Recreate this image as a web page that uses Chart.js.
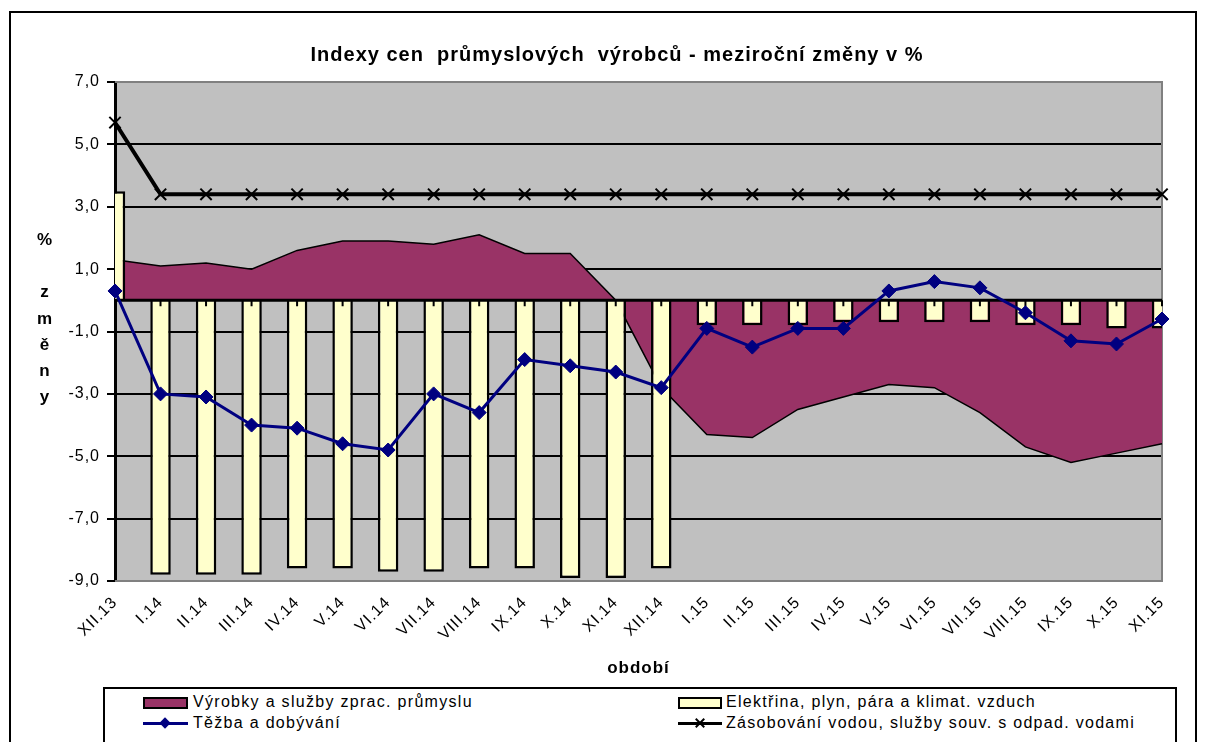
<!DOCTYPE html>
<html lang="cs">
<head>
<meta charset="UTF-8">
<title>Indexy cen průmyslových výrobců</title>
<script src="https://cdn.jsdelivr.net/npm/chart.js"></script>
<style>
  body { margin: 0; background: #fff; font-family: 'Liberation Sans', Arial, sans-serif; }
  #wrap { position: relative; width: 1206px; height: 742px; overflow: hidden; }
  #chart { position: absolute; left: 0; top: 0; }
  #legend { position: absolute; left: 103px; top: 687px; width: 1070px; height: 80px; border: 2px solid #000; background: #fff; }
  .item { position: absolute; height: 20px; }
  .item span { position: absolute; top: 0; font-size: 16px; letter-spacing: 1.3px; line-height: 20px; white-space: nowrap; color: #000; }
  .box { position: absolute; top: 5px; height: 8px; border: 2px solid #000; }
  .ln { position: absolute; top: 9px; height: 3px; }
  .dia { position: absolute; top: 6px; width: 8px; height: 8px; transform: rotate(45deg); }
  .x1, .x2 { position: absolute; top: 4px; width: 2px; height: 12px; background: #000; }
  .x1 { transform: rotate(45deg); }
  .x2 { transform: rotate(-45deg); }
</style>
</head>
<body>
<div id="wrap">
  <canvas id="chart" width="1206" height="742"></canvas>
  <div id="legend"></div>
</div>

<script>
  const labels = ['XII.13', 'I.14', 'II.14', 'III.14', 'IV.14', 'V.14', 'VI.14', 'VII.14', 'VIII.14', 'IX.14', 'X.14', 'XI.14',
                  'XII.14', 'I.15', 'II.15', 'III.15', 'IV.15', 'V.15', 'VI.15', 'VII.15', 'VIII.15', 'IX.15', 'X.15', 'XI.15'];

  const zpracPrumysl = [1.3, 1.1, 1.2, 1.0, 1.6, 1.9, 1.9, 1.8, 2.1, 1.5, 1.5, 0.0,
                        -2.8, -4.3, -4.4, -3.5, -3.1, -2.7, -2.8, -3.6, -4.7, -5.2, -4.9, -4.6];
  const elektrina = [3.5, -8.8, -8.8, -8.8, -8.6, -8.6, -8.7, -8.7, -8.6, -8.6, -8.9, -8.9,
                     -8.6, -0.8, -0.8, -0.8, -0.7, -0.7, -0.7, -0.7, -0.8, -0.8, -0.9, -0.9];
  const tezba = [0.3, -3.0, -3.1, -4.0, -4.1, -4.6, -4.8, -3.0, -3.6, -1.9, -2.1, -2.3,
                 -2.8, -0.9, -1.5, -0.9, -0.9, 0.3, 0.6, 0.4, -0.4, -1.3, -1.4, -0.6];
  const voda = [5.7, 3.4, 3.4, 3.4, 3.4, 3.4, 3.4, 3.4, 3.4, 3.4, 3.4, 3.4,
                3.4, 3.4, 3.4, 3.4, 3.4, 3.4, 3.4, 3.4, 3.4, 3.4, 3.4, 3.4];

  const seriesNames = ['Výrobky a služby zprac. průmyslu', 'Elektřina, plyn, pára a klimat. vzduch',
                       'Těžba a dobývání', 'Zásobování vodou, služby souv. s odpad. vodami'];
  const chartTitle = 'Indexy cen  průmyslových  výrobců - meziroční změny v %';
  const yTitle = ['%', '', 'z', 'm', 'ě', 'n', 'y'];

  const font = "'Liberation Sans', Arial, sans-serif";

  // Excel píše trochu širší písmo
  const spacing = {
    id: 'spacing',
    beforeLayout(chart) { chart.ctx.letterSpacing = '1px'; },
    beforeDraw(chart) { chart.ctx.letterSpacing = '1px'; }
  };

  // pozadí, rám, šedá plocha grafu, nulová osa, nadpisy
  const excelLook = {
    id: 'excelLook',
    beforeDraw(chart) {
      const { ctx, chartArea: a } = chart;
      ctx.save();
      ctx.fillStyle = '#fff';
      ctx.fillRect(0, 0, chart.width, chart.height);
      ctx.strokeStyle = '#000';
      ctx.lineWidth = 2;
      ctx.strokeRect(10, 12, 1186, 760);
      ctx.fillStyle = '#c0c0c0';
      ctx.fillRect(a.left, a.top, a.right - a.left, a.bottom - a.top);
      ctx.restore();
    },
    beforeDatasetsDraw(chart) {
      const { ctx, chartArea: a } = chart;
      ctx.save();
      ctx.strokeStyle = '#808080';
      ctx.lineWidth = 2;
      ctx.beginPath();
      ctx.moveTo(a.left, a.top);
      ctx.lineTo(a.right, a.top);
      ctx.lineTo(a.right, a.bottom);
      ctx.lineTo(a.left, a.bottom);
      ctx.stroke();
      ctx.restore();
    },
    afterDatasetDraw(chart, args) {
      if (args.index !== 1) return;
      const { ctx, chartArea: a, scales } = chart;
      const y0 = scales.y.getPixelForValue(0);
      ctx.save();
      ctx.strokeStyle = '#000';
      ctx.lineWidth = 3;
      ctx.beginPath();
      ctx.moveTo(a.left, y0);
      ctx.lineTo(a.right, y0);
      ctx.stroke();
      ctx.lineWidth = 2;
      ctx.beginPath();
      labels.forEach((l, i) => {
        const x = scales.x.getPixelForTick(i);
        ctx.moveTo(x, y0);
        ctx.lineTo(x, y0 + 6);
      });
      ctx.stroke();
      ctx.restore();
    },
    afterDraw(chart) {
      const { ctx } = chart;
      ctx.save();
      ctx.letterSpacing = '1px';
      ctx.fillStyle = '#000';
      ctx.textAlign = 'center';
      ctx.textBaseline = 'middle';
      ctx.font = 'bold 20px ' + font;
      ctx.fillText(chartTitle, 617, 55);
      ctx.font = 'bold 17px ' + font;
      yTitle.forEach((ch, i) => ctx.fillText(ch, 45, 240 + i * 26.3));
      ctx.restore();
    }
  };

  const ctx = document.getElementById('chart').getContext('2d');
  const chart = new Chart(ctx, {
    data: {
      labels: labels,
      datasets: [
        {
          type: 'line',
          label: seriesNames[0],
          data: zpracPrumysl,
          fill: 'origin',
          backgroundColor: '#993366',
          borderColor: '#000',
          borderWidth: 1.5,
          pointRadius: 0,
          tension: 0,
          order: 4
        },
        {
          type: 'bar',
          label: seriesNames[1],
          data: elektrina,
          backgroundColor: '#ffffcc',
          borderColor: '#000',
          borderWidth: 2.5,
          barPercentage: 0.45,
          categoryPercentage: 1,
          clip: 0,
          order: 3
        },
        {
          type: 'line',
          label: seriesNames[2],
          data: tezba,
          borderColor: '#000080',
          backgroundColor: '#000080',
          borderWidth: 3,
          pointStyle: 'rectRot',
          pointRadius: 7,
          pointBorderWidth: 1,
          tension: 0,
          clip: false,
          order: 1
        },
        {
          type: 'line',
          label: seriesNames[3],
          data: voda,
          borderColor: '#000',
          backgroundColor: '#000',
          borderWidth: 4,
          pointStyle: 'crossRot',
          pointRadius: 8,
          pointBorderWidth: 2,
          tension: 0,
          clip: false,
          order: 2
        }
      ]
    },
    options: {
      responsive: false,
      animation: false,
      layout: { padding: { left: 0, right: 44, top: 82, bottom: 61 } },
      plugins: {
        legend: { display: false },
        tooltip: { enabled: false },
        title: { display: false }
      },
      scales: {
        x: {
          type: 'category',
          offset: false,
          grid: { display: false, drawTicks: false },
          border: { display: false },
          ticks: {
            color: '#000',
            font: { family: font, size: 16 },
            minRotation: 45,
            maxRotation: 45,
            autoSkip: false,
            padding: 12
          },
          title: {
            display: true,
            text: 'období',
            color: '#000',
            font: { family: font, size: 17, weight: 'bold' },
            padding: { top: 0, bottom: 2 }
          },
          afterFit(scale) { scale.height = 100; }
        },
        y: {
          min: -9,
          max: 7,
          ticks: {
            stepSize: 2,
            color: '#000',
            font: { family: font, size: 16 },
            padding: 7,
            callback: v => v.toFixed(1).replace('.', ',')
          },
          grid: { color: '#000', lineWidth: 2, tickLength: 8, tickColor: '#000', tickWidth: 2 },
          border: { color: '#000', width: 3 },
          afterFit(scale) { scale.width = 115; }
        }
      }
    },
    plugins: [spacing, excelLook]
  });

  // legenda ve dvou sloupcích jako v Excelu
  const legend = document.getElementById('legend');
  const cols = [38, 573];
  const rows = [3, 24];
  const swatch = [
    '<div class="box" style="left:0;width:41px;background:#993366"></div>',
    '<div class="box" style="left:0;width:40px;background:#ffffcc"></div>',
    '<div class="ln" style="left:0;width:45px;background:#000080"></div><div class="dia" style="left:18px;background:#000080"></div>',
    '<div class="ln" style="left:0;width:44px;background:#000"></div><div class="x1" style="left:21px"></div><div class="x2" style="left:21px"></div>'
  ];
  const textLeft = [50, 48, 50, 48];
  chart.data.datasets.forEach((ds, i) => {
    const it = document.createElement('div');
    it.className = 'item';
    it.style.left = cols[i % 2] + 'px';
    it.style.top = rows[Math.floor(i / 2)] + 'px';
    it.innerHTML = swatch[i] + '<span style="left:' + textLeft[i] + 'px"></span>';
    it.querySelector('span').textContent = ds.label;
    legend.appendChild(it);
  });
</script>
</body>
</html>
